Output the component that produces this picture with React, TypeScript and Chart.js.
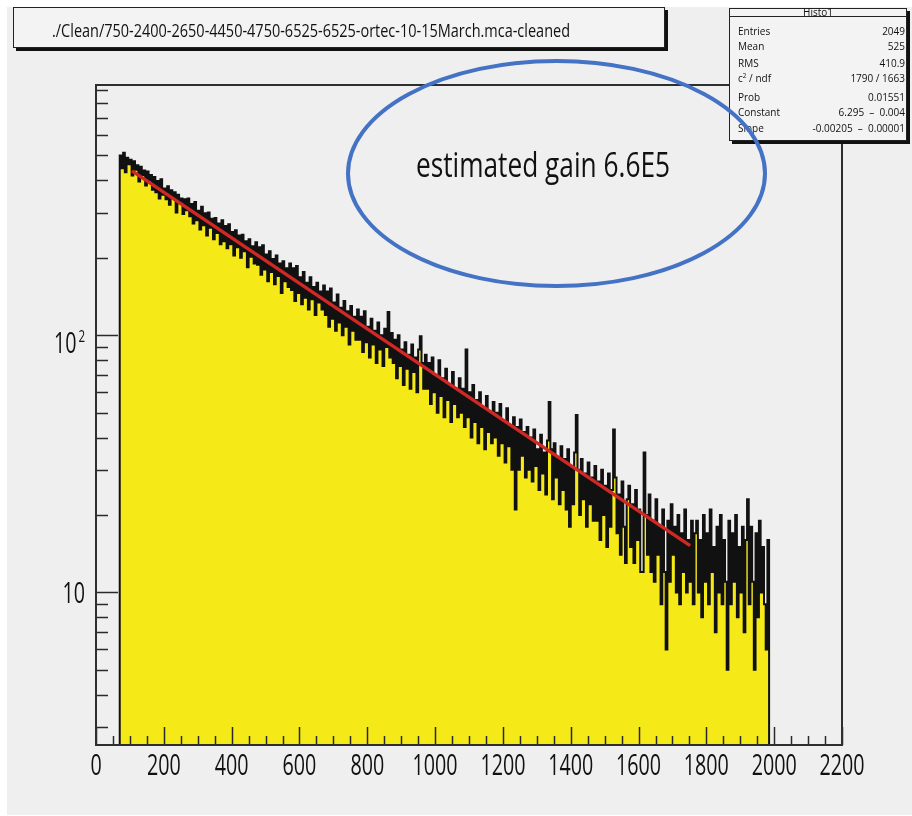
import React, { useEffect, useRef } from "react";
import { Chart, registerables } from "chart.js";

Chart.register(...registerables);

const FONT = "'Open Sans', 'Liberation Sans', sans-serif";

// ---- data ----
const binStart = 70;
const binWidth = 5;
const counts = [
  500, 446, 512, 430, 490, 462, 481, 418, 475, 440, 458, 396, 452, 420, 437, 382, 433, 401, 420, 368,
  412, 360, 398, 340, 404, 352, 372, 338, 380, 322, 366, 345, 360, 300, 352, 326, 340, 296, 338, 306,
  340, 290, 324, 272, 330, 280, 305, 258, 316, 268, 298, 244, 300, 262, 284, 236, 286, 250, 272, 226,
  280, 232, 266, 218, 270, 226, 252, 204, 256, 220, 244, 200, 246, 212, 232, 184, 236, 202, 222, 190,
  230, 188, 220, 172, 224, 180, 206, 162, 212, 176, 198, 158, 204, 170, 190, 146, 194, 162, 182, 154,
  190, 150, 182, 136, 186, 146, 168, 132, 176, 140, 160, 126, 168, 138, 154, 120, 160, 134, 148, 126,
  156, 120, 148, 108, 152, 116, 134, 104, 144, 112, 128, 100, 136, 108, 124, 92, 130, 104, 118, 96,
  126, 96, 118, 86, 124, 94, 108, 82, 116, 92, 104, 78, 112, 88, 100, 76, 106, 90, 123, 82,
  102, 78, 96, 68, 100, 76, 88, 64, 94, 74, 84, 62, 92, 72, 82, 60, 88, 99, 78, 62,
  84, 62, 78, 54, 82, 60, 70, 50, 80, 58, 68, 48, 74, 56, 64, 46, 72, 54, 62, 48,
  68, 50, 62, 44, 88, 48, 60, 40, 64, 46, 56, 38, 60, 44, 52, 36, 58, 42, 50, 38,
  55, 40, 50, 34, 54, 38, 46, 32, 52, 37, 44, 30, 48, 21, 44, 30, 47, 34, 42, 28,
  44, 30, 40, 27, 43, 31, 36, 25, 41, 29, 35, 24, 39, 55, 36, 23, 38, 28, 33, 22,
  37, 25, 33, 21, 36, 18, 31, 22, 35, 49, 30, 20, 33, 23, 29, 18, 32, 22, 28, 19,
  31, 19, 27, 16, 30, 20, 26, 15, 29, 18, 25, 43, 28, 17, 24, 14, 27, 18, 13, 23,
  26, 15, 22, 13, 25, 16, 21, 12, 12, 35, 20, 14, 24, 12, 19, 11, 23, 14, 18, 9,
  21, 12, 6, 19, 11, 22, 14, 18, 10, 20, 9, 17, 12, 21, 10, 16, 11, 19, 9, 17,
  19, 10, 16, 8, 20, 11, 17, 9, 21, 12, 15, 7, 18, 10, 20, 9, 16, 11, 5, 19,
  9, 17, 11, 20, 8, 15, 10, 18, 7, 16, 23, 9, 18, 11, 5, 17, 8, 19, 10, 15, 9, 6, 16,
];
const fitX = [106, 1752];
const fitY = [436, 15.2];

const xMin = 0;
const xMax = 2200;
const xStep = 200;
const xMinorStep = 50;
const yMin = 2.55;
const yMax = 940;
const yTickValues = [10, 100];
const yTickBase = ["10", "10"];
const yTickExp = ["", "2"];

const titleText = "./Clean/750-2400-2650-4450-4750-6525-6525-ortec-10-15March.mca-cleaned";
const statsTitle = "Histo1";
const statsLabels = ["Entries", "Mean", "RMS", "c2 / ndf", "Prob", "Constant", "Slope"];
const statsValues = ["2049", "525", "410.9", "1790 / 1663", "0.01551", "6.295  –  0.004", "-0.00205  –  0.00001"];
const statsBaselines = [28, 43, 59.5, 74.5, 93.5, 108.5, 124.5];
const annotationText = "estimated gain 6.6E5";

const BG = "#efefef";
const YELLOW = "rgb(245,233,24)";
const TICK_FONT_SIZE = 29;
const TICK_REF_TEXT = "1000";
const TICK_REF_WIDTH = 45;

const frameTicksPlugin = {
  id: "frameTicks",
  afterDatasetsDraw(chart: any) {
    const { ctx, chartArea: a, scales } = chart;
    const xs = scales.x;
    const ys = scales.y;
    ctx.save();
    ctx.strokeStyle = "#2a2a2a";
    ctx.lineWidth = 1.5;
    ctx.beginPath();
    for (let v = xMin; v <= xMax; v += xMinorStep) {
      const px = Math.round(xs.getPixelForValue(v)) + 0.5;
      const len = v % xStep === 0 ? 18 : 9;
      ctx.moveTo(px, a.bottom);
      ctx.lineTo(px, a.bottom - len);
    }
    for (let d = 1; d <= 1000; d *= 10) {
      for (let m = 1; m <= 9; m++) {
        const v = m * d;
        if (v < yMin || v > yMax) continue;
        const py = Math.round(ys.getPixelForValue(v)) + 0.5;
        const len = m === 1 ? 22 : 12;
        ctx.moveTo(a.left, py);
        ctx.lineTo(a.left + len, py);
      }
    }
    ctx.stroke();
    ctx.lineWidth = 2;
    ctx.strokeStyle = "#2e2e2e";
    ctx.strokeRect(a.left, a.top, a.right - a.left, a.bottom - a.top);
    ctx.restore();
  },
};

// axis labels taken from the scales' own ticks, drawn condensed like the reference
const axisLabelsPlugin = {
  id: "axisLabels",
  afterDraw(chart: any) {
    const { ctx, chartArea: a, scales } = chart;
    ctx.save();
    ctx.fillStyle = "#111";
    ctx.font = `${TICK_FONT_SIZE}px ${FONT}`;
    const sx = TICK_REF_WIDTH / ctx.measureText(TICK_REF_TEXT).width;
    ctx.textBaseline = "alphabetic";
    ctx.textAlign = "center";
    for (const t of scales.x.ticks) {
      const px = scales.x.getPixelForValue(t.value);
      ctx.save();
      ctx.translate(px, a.bottom + 30);
      ctx.scale(sx, 1);
      ctx.fillText(String(t.value), 0, 0);
      ctx.restore();
    }
    const right = a.left - 11;
    for (const t of scales.y.ticks) {
      const idx = yTickValues.findIndex((v) => Math.abs(v - t.value) < 1e-6);
      if (idx < 0) continue;
      const py = scales.y.getPixelForValue(t.value);
      const base = yTickBase[idx];
      const exp = yTickExp[idx];
      if (exp) {
        ctx.font = `17px ${FONT}`;
        const supW = ctx.measureText(exp).width * sx;
        ctx.textAlign = "left";
        ctx.save();
        ctx.translate(right - supW, py + 7);
        ctx.scale(sx, 1);
        ctx.fillText(exp, 0, 0);
        ctx.restore();
        ctx.font = `${TICK_FONT_SIZE}px ${FONT}`;
        ctx.textAlign = "right";
        ctx.save();
        ctx.translate(right - supW - 2, py + 18);
        ctx.scale(sx, 1);
        ctx.fillText(base, 0, 0);
        ctx.restore();
      } else {
        ctx.font = `${TICK_FONT_SIZE}px ${FONT}`;
        ctx.textAlign = "right";
        ctx.save();
        ctx.translate(right, py + 10.5);
        ctx.scale(sx, 1);
        ctx.fillText(base, 0, 0);
        ctx.restore();
      }
    }
    ctx.restore();
  },
};

function HistoChart() {
  const ref = useRef<HTMLCanvasElement | null>(null);
  useEffect(() => {
    if (!ref.current) return;
    const lastEdge = binStart + counts.length * binWidth;
    const histPoints = [
      { x: binStart, y: yMin },
      ...counts.map((c, i) => ({ x: binStart + i * binWidth, y: c })),
      { x: lastEdge, y: counts[counts.length - 1] },
      { x: lastEdge, y: yMin },
    ];
    const fitPoints = fitX.map((x, i) => ({ x, y: fitY[i] }));
    const chart = new Chart(ref.current, {
      type: "line",
      data: {
        datasets: [
          {
            data: fitPoints,
            borderColor: "rgb(208,40,36)",
            borderWidth: 3.4,
            pointRadius: 0,
            fill: false,
            tension: 0,
          },
          {
            data: histPoints,
            borderColor: "#111",
            borderWidth: 2,
            borderJoinStyle: "miter",
            backgroundColor: YELLOW,
            fill: "start",
            stepped: "before",
            pointRadius: 0,
            tension: 0,
          },
        ],
      },
      options: {
        animation: false,
        responsive: false,
        devicePixelRatio: 1,
        parsing: false,
        layout: { padding: { top: 78, right: 70, left: 0, bottom: 0 } },
        plugins: { legend: { display: false }, tooltip: { enabled: false }, title: { display: false } },
        scales: {
          x: {
            type: "linear",
            min: xMin,
            max: xMax,
            grid: { display: false, drawTicks: false },
            border: { display: false },
            ticks: { stepSize: xStep, autoSkip: false, display: false },
            afterFit: (s: any) => {
              s.height = 70;
            },
          },
          y: {
            type: "logarithmic",
            min: yMin,
            max: yMax,
            grid: { display: false, drawTicks: false },
            border: { display: false },
            ticks: { autoSkip: false, display: false },
            afterFit: (s: any) => {
              s.width = 89;
            },
          },
        },
      },
      plugins: [frameTicksPlugin, axisLabelsPlugin],
    } as any);
    return () => chart.destroy();
  }, []);
  return <canvas ref={ref} width={905} height={808} style={{ position: "absolute", left: 0, top: 0 }} />;
}

function Overlay() {
  const txt = { fontFamily: FONT, fill: "#111" } as any;
  return (
    <svg width={905} height={808} style={{ position: "absolute", left: 0, top: 0 }}>
      {/* title pave */}
      <rect x={9} y={3} width={652} height={41} fill="#111" />
      <rect x={6.5} y={0.5} width={651} height={40} fill="#f3f3f3" stroke="#222" strokeWidth={1} />
      <text {...txt} x={45} y={29.7} fontSize={18} textLength={518} lengthAdjust="spacingAndGlyphs">
        {titleText}
      </text>
      {/* stats box */}
      <rect x={725} y={4} width={178} height={133} fill="#111" />
      <rect x={722.5} y={1.5} width={177} height={132} fill="#f3f3f3" stroke="#222" strokeWidth={1} />
      <line x1={722.5} x2={899.5} y1={9.5} y2={9.5} stroke="#222" strokeWidth={1} />
      <text {...txt} x={811} y={8.7} fontSize={10} textAnchor="middle">
        {statsTitle}
      </text>
      {statsLabels.map((lab, i) => (
        <React.Fragment key={lab}>
          {lab.startsWith("c2") ? (
            <text {...txt} x={731} y={statsBaselines[i]} fontSize={10}>
              c
              <tspan fontSize={6.5} dy={-4}>
                2
              </tspan>
              <tspan dy={4}>{" / ndf"}</tspan>
            </text>
          ) : (
            <text {...txt} x={731} y={statsBaselines[i]} fontSize={10}>
              {lab}
            </text>
          )}
          <text {...txt} x={898} y={statsBaselines[i]} fontSize={10} textAnchor="end" style={{ whiteSpace: "pre" }}>
            {statsValues[i]}
          </text>
        </React.Fragment>
      ))}
      {/* annotation */}
      <ellipse cx={549.5} cy={166.5} rx={208.5} ry={112.5} fill="none" stroke="#4472c4" strokeWidth={4} />
      <text {...txt} x={409} y={170} fontSize={35} textLength={254} lengthAdjust="spacingAndGlyphs">
        {annotationText}
      </text>
    </svg>
  );
}

export default function App() {
  return (
    <div style={{ position: "absolute", left: 7, top: 7, width: 905, height: 808, background: BG, overflow: "hidden" }}>
      <HistoChart />
      <Overlay />
    </div>
  );
}
